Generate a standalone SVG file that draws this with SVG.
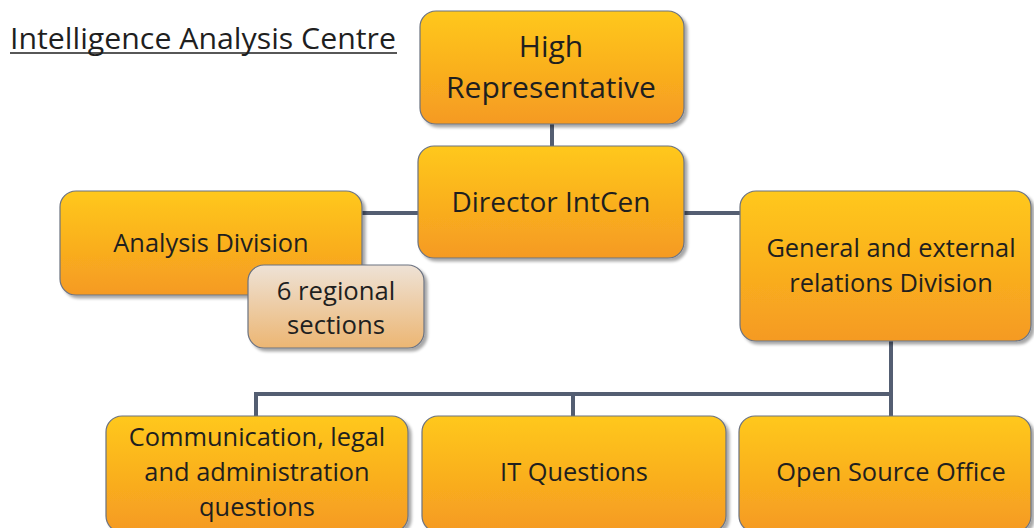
<svg xmlns="http://www.w3.org/2000/svg" width="1034" height="528" viewBox="0 0 1034 528">
<defs>
<linearGradient id="gOrange" x1="0" y1="0" x2="0" y2="1">
<stop offset="0" stop-color="#ffc81a"/>
<stop offset="1" stop-color="#f59a22"/>
</linearGradient>
<linearGradient id="gBeige" x1="0" y1="0" x2="0" y2="1">
<stop offset="0" stop-color="#eee2d6"/>
<stop offset="1" stop-color="#ecb673"/>
</linearGradient>
<filter id="shadow" x="-10%" y="-10%" width="130%" height="130%">
<feGaussianBlur in="SourceAlpha" stdDeviation="1.5"/>
<feOffset dx="3" dy="3" result="b"/>
<feComponentTransfer><feFuncA type="linear" slope="0.35"/></feComponentTransfer>
<feMerge><feMergeNode/><feMergeNode in="SourceGraphic"/></feMerge>
</filter>
</defs>
<style>
.box{fill:url(#gOrange);stroke:#6b7280;stroke-width:1.2;filter:url(#shadow)}
.sub{fill:url(#gBeige);stroke:#6b7280;stroke-width:1.2;filter:url(#shadow)}
.t{font-family:"Open Sans","Liberation Sans",sans-serif;fill:#1f1f1f;text-anchor:middle}
.conn{stroke:#545e72;stroke-width:4;fill:none}
</style>
<rect width="1034" height="528" fill="#ffffff"/>
<g id="title">
<text x="10" y="49" font-family="Open Sans,Liberation Sans,sans-serif" font-size="29" fill="#1f1f1f" textLength="386" lengthAdjust="spacingAndGlyphs">Intelligence Analysis Centre</text>
<line x1="10" y1="53" x2="397" y2="53" stroke="#1f1f1f" stroke-width="1.6"/>
</g>
<g id="connectors">
<line class="conn" x1="552" y1="124" x2="552" y2="147"/>
<line class="conn" x1="362" y1="213" x2="418" y2="213"/>
<line class="conn" x1="684" y1="213" x2="740" y2="213"/>
<line class="conn" x1="891" y1="341" x2="891" y2="417"/>
<polyline class="conn" points="256,417 256,394 891,394"/>
<line class="conn" x1="573" y1="394" x2="573" y2="417"/>
</g>
<g id="n-high">
<rect class="box" x="420" y="11" width="264" height="113" rx="16"/>
<text class="t" x="551" y="57" font-size="30">High</text>
<text class="t" x="551" y="98" font-size="30">Representative</text>
</g>
<g id="n-director">
<rect class="box" x="418" y="146" width="266" height="112" rx="16"/>
<text class="t" x="551" y="212" font-size="28">Director IntCen</text>
</g>
<g id="n-analysis">
<rect class="box" x="60" y="191" width="302" height="104" rx="16"/>
<text class="t" x="211" y="252" font-size="25.4">Analysis Division</text>
</g>
<g id="n-regional">
<rect class="sub" x="248" y="265" width="176" height="83" rx="16"/>
<text class="t" x="336" y="300" font-size="25.7">6 regional</text>
<text class="t" x="336" y="334" font-size="25.7">sections</text>
</g>
<g id="n-general">
<rect class="box" x="740" y="191" width="291" height="150" rx="16"/>
<text class="t" x="891" y="257" font-size="25.4">General and external</text>
<text class="t" x="891" y="292" font-size="25.4">relations Division</text>
</g>
<g id="n-comm">
<rect class="box" x="106" y="416" width="302" height="116" rx="16"/>
<text class="t" x="257" y="446" font-size="25.4">Communication, legal</text>
<text class="t" x="257" y="481" font-size="25.4">and administration</text>
<text class="t" x="257" y="516" font-size="25.4">questions</text>
</g>
<g id="n-it">
<rect class="box" x="422" y="416" width="304" height="116" rx="16"/>
<text class="t" x="574" y="481" font-size="25.4">IT Questions</text>
</g>
<g id="n-osint">
<rect class="box" x="739" y="416" width="292" height="116" rx="16"/>
<text class="t" x="891" y="481" font-size="25.4">Open Source Office</text>
</g>
</svg>
